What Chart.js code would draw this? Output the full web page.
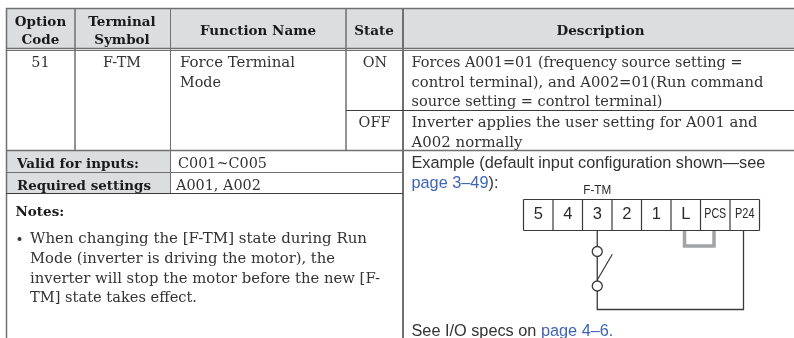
<!DOCTYPE html>
<html>
<head>
<meta charset="utf-8">
<style>
  html, body { margin: 0; padding: 0; background: #fff; }
  canvas { display: block; }
</style>
<script src="https://cdn.jsdelivr.net/npm/chart.js@4/dist/chart.umd.min.js"></script>
</head>
<body>
<canvas id="chart" width="794" height="338"></canvas>
<script>
const optionHeader = ['Option', 'Code'];
const terminalHeader = ['Terminal', 'Symbol'];
const functionHeader = ['Function Name'];
const stateHeader = ['State'];
const descriptionHeader = ['Description'];
const optionCodes = ['51'];
const terminalSymbols = ['F-TM'];
const functionNames = ['Force Terminal', 'Mode'];
const states = ['ON', 'OFF'];
const descriptionOn = [
    'Forces A001=01 (frequency source setting =',
    'control terminal), and A002=01(Run command',
    'source setting = control terminal)'
];
const descriptionOff = ['Inverter applies the user setting for A001 and', 'A002 normally'];
const settingLabels = ['Valid for inputs:', 'Required settings'];
const settingValues = ['C001~C005', 'A001, A002'];
const notesTitle = ['Notes:'];
const notes = [
    'When changing the [F-TM] state during Run',
    'Mode (inverter is driving the motor), the',
    'inverter will stop the motor before the new [F-',
    'TM] state takes effect.'
];
const exampleText = ['Example (default input configuration shown\u2014see'];
const exampleLink = ['page 3\u201349', '):'];
const specsText = ['See I/O specs on ', 'page 4\u20136.'];
const wiredTerminal = ['F-TM'];
const terminals = ['5', '4', '3', '2', '1', 'L', 'PCS', 'P24'];

const GREY = '#6f7071', DARK = '#3a3a3a', HEAD = '#dcddde', JUMPER = '#a3a4a5';
const SERIF = '"DejaVu Serif"', SANS = '"Liberation Sans"';
const TEXT = '#333';

function box(x1, y1, x2, y2, color) {
    return {
        data: [{x: x1, y: y1}, {x: x2, y: y1}, {x: x2, y: y2}, {x: x1, y: y2}, {x: x1, y: y1}],
        showLine: true, pointRadius: 0, borderWidth: 0, borderColor: color,
        backgroundColor: color, fill: 'shape', order: 5
    };
}

function wire(points, color, width) {
    return {
        data: points.map(p => ({x: p[0], y: p[1]})),
        showLine: true, pointRadius: 0, borderWidth: width, borderColor: color,
        fill: false, order: 3
    };
}

// terminal strip
const stripLeft = 523.5, stripCell = 29.5, stripTop = 199.5, stripBottom = 230.5;
const stripCenter = i => stripLeft + stripCell * (i + 0.5);
const switchX = stripCenter(terminals.indexOf('3'));
const commonX = 743.5;

const datasets = [
    box(7, 9, 794, 48, HEAD),
    box(7, 151, 170, 193, HEAD),

    // table rules
    wire([[6, 8.5], [794, 8.5]], GREY, 1.5),
    wire([[6, 48.5], [794, 48.5]], GREY, 1.5),
    wire([[6, 50.5], [794, 50.5]], GREY, 1),
    wire([[346, 110.5], [794, 110.5]], DARK, 1),
    wire([[6, 150.5], [794, 150.5]], GREY, 1.5),
    wire([[6, 172.5], [403, 172.5]], GREY, 1),
    wire([[6, 193.5], [403, 193.5]], DARK, 1),
    wire([[6.5, 8], [6.5, 338]], GREY, 1.5),
    wire([[75, 8], [75, 150]], GREY, 1.5),
    wire([[170.5, 8], [170.5, 193]], GREY, 1),
    wire([[346, 8], [346, 150]], GREY, 1.5),
    wire([[403, 8], [403, 338]], GREY, 2),

    // wiring
    wire([[684.5, 231], [684.5, 246], [714, 246], [714, 231]], JUMPER, 3.5),
    wire([[switchX, stripBottom], [switchX, 309.5], [commonX, 309.5], [commonX, stripBottom]], DARK, 1.3),
    wire([[switchX, 280], [612.3, 254.3]], DARK, 1.2),
    {
        data: [{x: switchX, y: 251.5}, {x: switchX, y: 286}],
        pointRadius: 5, pointBorderWidth: 1.3, pointBackgroundColor: '#fff',
        pointBorderColor: DARK, showLine: false, order: 1
    }
];

for (let i = 0; i <= terminals.length; i++) {
    const x = stripLeft + stripCell * i;
    datasets.push(wire([[x, stripTop], [x, stripBottom]], DARK, 1.2));
}
datasets.push(wire([[stripLeft, stripTop], [stripLeft + stripCell * terminals.length, stripTop]], DARK, 1.2));
datasets.push(wire([[stripLeft, stripBottom], [stripLeft + stripCell * terminals.length, stripBottom]], DARK, 1.2));

const tableText = {
    id: 'tableText',
    afterDraw(chart) {
        const ctx = chart.ctx;
        const sx = chart.scales.x, sy = chart.scales.y;

        // fit may be one width or one width per line
        function put(lines, x, y, step, font, align, color, fit) {
            ctx.font = font;
            ctx.textAlign = align || 'left';
            ctx.textBaseline = 'alphabetic';
            ctx.fillStyle = color || TEXT;
            lines.forEach((line, i) => {
                const maxWidth = Array.isArray(fit) ? fit[i] : fit;
                ctx.fillText(line, sx.getPixelForValue(x), sy.getPixelForValue(y + step * i), maxWidth);
            });
        }

        ctx.save();
        const bold = `bold 13.5px ${SERIF}`, serif = `14.4px ${SERIF}`, wide = `15px ${SERIF}`, sans = `16.3px ${SANS}`;

        put(optionHeader, 40.5, 26, 18, bold, 'center', '#1a1a1a', 52);
        put(terminalHeader, 122, 26, 18, bold, 'center', '#1a1a1a', 70);
        put(functionHeader, 258, 34.5, 0, bold, 'center', '#1a1a1a', 118);
        put(stateHeader, 374, 34.5, 0, bold, 'center', '#1a1a1a');
        put(descriptionHeader, 600.5, 34.5, 0, bold, 'center', '#1a1a1a', 88);

        put(optionCodes, 40.5, 66.5, 0, serif, 'center');
        put(terminalSymbols, 122, 66.5, 0, serif, 'center');
        put(functionNames, 180, 66.5, 20, wide, 'left', TEXT, [115, 41]);
        put([states[0]], 375, 66.5, 0, serif, 'center');
        put([states[1]], 374.5, 126.5, 0, serif, 'center');
        put(descriptionOn, 411.5, 67, 19.7, wide, 'left', TEXT, [331, 352, 251]);
        put(descriptionOff, 411.5, 126.5, 20, wide, 'left', TEXT, [346, 111]);

        put(settingLabels, 17, 167.5, 22, bold, 'left', '#1a1a1a', 134);
        put([settingValues[0]], 178, 167.5, 0, serif);
        put([settingValues[1]], 176, 189.5, 0, serif);

        put(notesTitle, 15.5, 216, 0, bold, 'left', '#1a1a1a');
        put(notes, 30, 243, 19.8, wide, 'left', TEXT, [337, 305, 350, 167]);

        put(exampleText, 411.5, 168, 0, sans);
        put([exampleLink[0]], 411.5, 187.5, 0, sans, 'left', '#3f63b5');
        const linkW = ctx.measureText(exampleLink[0]).width;
        put([exampleLink[1]], 411.5 + linkW, 187.5, 0, sans);
        put([specsText[0]], 411.5, 336, 0, sans);
        const specW = ctx.measureText(specsText[0]).width;
        put([specsText[1]], 411.5 + specW, 336, 0, sans, 'left', '#3f63b5');

        put(wiredTerminal, switchX, 194, 0, `13.5px ${SANS}`, 'center', '#2a2a2a', 28);
        terminals.forEach((label, i) => {
            const small = label.length > 1;
            put([label], stripCenter(i), small ? 218 : 218.5, 0,
                `${small ? 15 : 16.5}px ${SANS}`, 'center', '#2a2a2a', label === 'PCS' ? 22 : 19.5);
        });

        // bullet for the note
        ctx.beginPath();
        ctx.arc(sx.getPixelForValue(19.5), sy.getPixelForValue(239), 2, 0, Math.PI * 2);
        ctx.fillStyle = TEXT;
        ctx.fill();
        ctx.restore();
    }
};

new Chart(document.getElementById('chart'), {
    type: 'scatter',
    data: {datasets: datasets},
    options: {
        responsive: false,
        animation: false,
        layout: {padding: 0, autoPadding: false},
        plugins: {legend: {display: false}, tooltip: {enabled: false}},
        scales: {
            x: {type: 'linear', min: 0, max: 794, display: false},
            y: {type: 'linear', min: 0, max: 338, reverse: true, display: false}
        }
    },
    plugins: [tableText]
});
</script>
</body>
</html>
